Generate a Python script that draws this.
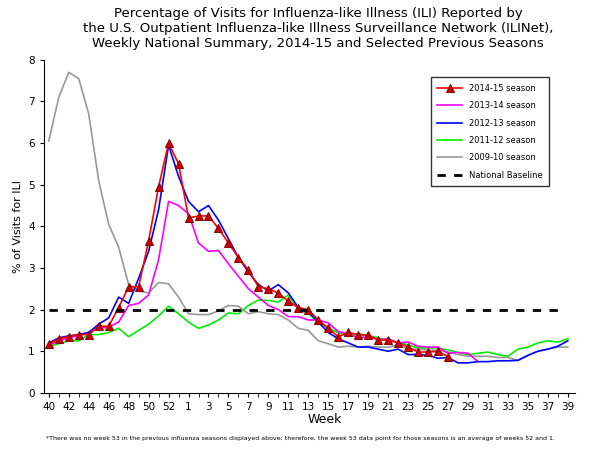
import numpy as np, pandas as pd, seaborn as sns
import matplotlib
matplotlib.use("Agg")
import matplotlib.pyplot as plt

weeks = list(range(40, 54)) + list(range(1, 40))
nan = np.nan
s1415 = [1.17,1.3,1.35,1.4,1.4,1.6,1.6,2.05,2.55,2.55,3.65,4.95,6.0,5.5,
         4.2,4.25,4.25,3.95,3.6,3.25,2.95,2.55,2.5,2.4,2.2,2.05,2.0,1.75,1.55,1.35,1.45,1.4,1.38,1.27,1.27,1.2,1.1,0.98,0.98,1.0,0.87] + [nan]*12
s1314 = [1.15,1.25,1.32,1.38,1.45,1.55,1.58,1.7,2.1,2.15,2.35,3.2,4.6,4.5,
         4.3,3.6,3.4,3.42,3.1,2.8,2.5,2.3,2.1,2.0,1.83,1.83,1.75,1.75,1.68,1.47,1.42,1.32,1.35,1.28,1.3,1.2,1.22,1.12,1.1,1.1,0.95,0.97,0.95,0.75] + [nan]*9
s1213 = [1.2,1.32,1.37,1.4,1.45,1.65,1.8,2.3,2.15,2.75,3.4,4.4,5.95,5.2,
         4.6,4.35,4.5,4.15,3.7,3.25,2.9,2.6,2.45,2.6,2.4,2.05,1.95,1.7,1.45,1.3,1.2,1.1,1.1,1.05,1.0,1.05,0.92,0.92,0.9,0.83,0.85,0.72,0.72,0.75,0.75,0.77,0.77,0.78,0.9,1.0,1.05,1.12,1.25]
s1112 = [1.12,1.18,1.25,1.25,1.4,1.4,1.45,1.55,1.35,1.5,1.65,1.85,2.08,1.9,
         1.7,1.55,1.63,1.75,1.92,1.9,2.1,2.23,2.22,2.18,2.35,2.0,1.9,1.7,1.55,1.45,1.35,1.42,1.38,1.32,1.25,1.22,1.15,1.08,1.08,1.08,1.03,0.97,0.92,0.95,0.98,0.92,0.88,1.05,1.1,1.2,1.25,1.22,1.3]
s0910 = [6.05,7.1,7.7,7.55,6.7,5.1,4.05,3.5,2.6,2.45,2.4,2.65,2.62,2.3,
         1.9,1.88,1.88,1.97,2.1,2.08,1.9,1.95,1.9,1.88,1.75,1.55,1.5,1.25,1.18,1.1,1.12,1.1,1.12,1.1,1.1,1.15,1.05,1.05,1.03,1.02,0.98,0.92,0.88,0.88,0.88,0.85,0.85,0.78,0.9,1.0,1.05,1.1,1.1]
baseline = 2.0

series = {"2014-15 season": s1415, "2013-14 season": s1314, "2012-13 season": s1213,
          "2011-12 season": s1112, "2009-10 season": s0910}
colors = {"2014-15 season": "#ff0000", "2013-14 season": "#ff00ff", "2012-13 season": "#0000ff",
          "2011-12 season": "#00ee00", "2009-10 season": "#999999"}
pos = np.arange(len(weeks))
df = pd.concat([pd.DataFrame({"pos": pos, "val": v, "season": k}) for k, v in series.items()])

fig = plt.figure(figsize=(6, 4.5), dpi=100)
ax = fig.add_axes([0.073, 0.127, 0.885, 0.74])
order = ["2009-10 season", "2011-12 season", "2013-14 season", "2012-13 season", "2014-15 season"]
for k in order:
    d = df[df.season == k]
    kw = dict(marker="^", markersize=6, markerfacecolor="#cc0000", markeredgecolor="#880000") if k == "2014-15 season" else {}
    sns.lineplot(data=d, x="pos", y="val", color=colors[k], lw=1.2, ax=ax, label=k, **kw)
ax.plot(pos[:-1], [baseline]*(len(pos)-1), "k--", lw=2, dashes=(3, 3), label="National Baseline")
h, l = ax.get_legend_handles_labels()
want = list(series.keys()) + ["National Baseline"]
hl = dict(zip(l, h))
ax.legend([hl[w] for w in want], want, loc="upper right", bbox_to_anchor=(0.96, 0.96), fontsize=6,
          frameon=True, fancybox=False, edgecolor="black", handlelength=3, labelspacing=1.0, borderpad=0.8)
ax.set_xlim(-0.5, len(weeks) - 0.3)
ax.set_ylim(0, 8)
ax.set_xticks(pos[::2])
ax.set_xticklabels([str(w) for w in weeks[::2]], fontsize=7.5)
ax.set_xticks(pos, minor=True)
ax.set_yticks(range(9))
ax.tick_params(axis="y", labelsize=7.5)
ax.tick_params(which="both", direction="out", length=3)
ax.set_xlabel("Week", fontsize=9, labelpad=2)
ax.xaxis.set_label_coords(0.53, -0.06)
ax.set_ylabel("% of Visits for ILI", fontsize=8)
for s in ["top", "right"]:
    ax.spines[s].set_visible(False)
fig.suptitle("Percentage of Visits for Influenza-like Illness (ILI) Reported by\n"
             "the U.S. Outpatient Influenza-like Illness Surveillance Network (ILINet),\n"
             "Weekly National Summary, 2014-15 and Selected Previous Seasons",
             fontsize=9.5, y=0.985, x=0.53)
fig.text(0.5, 0.02, "*There was no week 53 in the previous influenza seasons displayed above; therefore, the week 53 data point for those seasons is an average of weeks 52 and 1.",
         fontsize=4.5, ha="center", va="bottom")
fig.savefig("out.png", dpi=100)
